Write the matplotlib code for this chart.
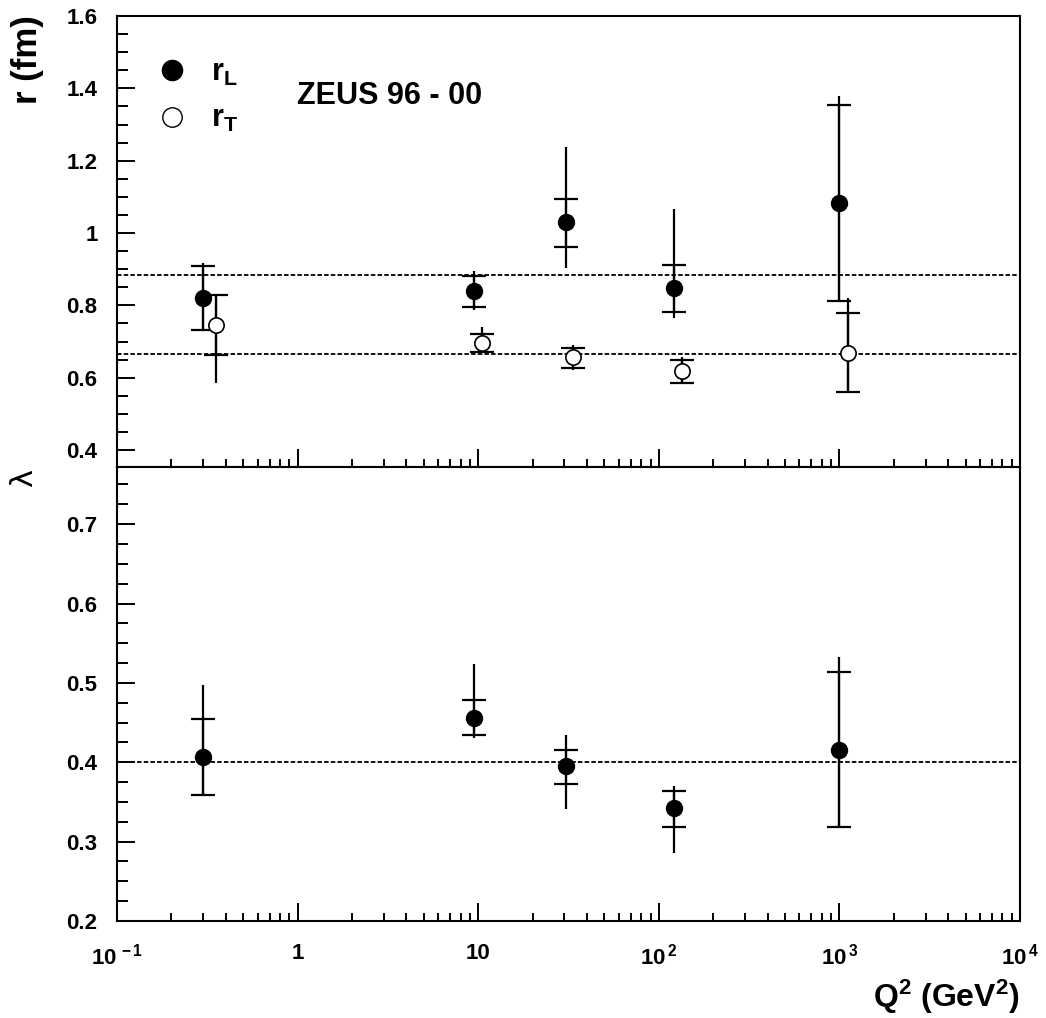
import matplotlib
matplotlib.use("Agg")
import matplotlib.pyplot as plt
from matplotlib.lines import Line2D
from matplotlib.ticker import FixedLocator, MultipleLocator, LogLocator, NullFormatter

plt.rcParams['font.family'] = ['Liberation Sans', 'DejaVu Sans']
plt.rcParams['font.weight'] = 'bold'
plt.rcParams['mathtext.fontset'] = 'custom'
plt.rcParams['mathtext.rm'] = 'Liberation Sans:bold'
plt.rcParams['mathtext.bf'] = 'Liberation Sans:bold'
plt.rcParams['mathtext.it'] = 'Liberation Sans:bold'
plt.rcParams['mathtext.default'] = 'regular'

# ---- data ----
# r_L (filled) and lambda share these Q2 values
q2_L = [0.30, 9.5, 30.5, 121, 1000]
rL = [0.821, 0.840, 1.030, 0.849, 1.082]
rL_stat_up = [0.088, 0.042, 0.063, 0.062, 0.271]
rL_stat_dn = [0.089, 0.044, 0.068, 0.067, 0.270]
rL_tot_up = [0.096, 0.056, 0.209, 0.216, 0.297]
rL_tot_dn = [0.089, 0.053, 0.128, 0.085, 0.270]

# r_T (open), slightly shifted in Q2
q2_T = [0.352, 10.5, 33.4, 134, 1122]
rT = [0.746, 0.697, 0.656, 0.618, 0.667]
rT_stat_up = [0.083, 0.024, 0.027, 0.031, 0.113]
rT_stat_dn = [0.083, 0.025, 0.028, 0.032, 0.107]
rT_tot_up = [0.083, 0.043, 0.034, 0.038, 0.154]
rT_tot_dn = [0.161, 0.025, 0.035, 0.032, 0.107]

# lambda
lam = [0.407, 0.456, 0.395, 0.342, 0.416]
lam_stat_up = [0.048, 0.022, 0.021, 0.022, 0.098]
lam_stat_dn = [0.048, 0.022, 0.022, 0.024, 0.098]
lam_tot_up = [0.090, 0.068, 0.039, 0.028, 0.116]
lam_tot_dn = [0.048, 0.025, 0.054, 0.056, 0.098]

# horizontal reference lines
r_lines = [0.883, 0.665]
lam_lines = [0.40]

x_ticks = [0.1, 1, 10, 100, 1000, 10000]
x_labels = ['$10^{\\,-1}$', '1', '10', '$10^{\\,2}$', '$10^{\\,3}$', '$10^{\\,4}$']

W, H = 1046, 1018
fig = plt.figure(figsize=(W / 100, H / 100), dpi=100)
left, right = 117, 1020
ax1 = fig.add_axes([left / W, (H - 467) / H, (right - left) / W, 451 / H])
ax2 = fig.add_axes([left / W, (H - 921) / H, (right - left) / W, 454 / H])


def draw_points(ax, x, y, s_up, s_dn, t_up, t_dn, filled, ms):
    # total error: plain line, stat error: with cross bars
    ax.errorbar(x, y, yerr=[t_dn, t_up], fmt='none', ecolor='black',
                elinewidth=1.6, capsize=0, zorder=2)
    ax.errorbar(x, y, yerr=[s_dn, s_up], fmt='none', ecolor='black',
                elinewidth=1.6, capsize=8.5, capthick=1.6, zorder=2)
    if filled:
        ax.plot(x, y, 'o', color='black', ms=ms, zorder=3)
    else:
        ax.plot(x, y, 'o', mfc='white', mec='black', mew=1.2, ms=ms, zorder=3)


for ax in (ax1, ax2):
    ax.set_xscale('log')
    ax.set_xlim(0.1, 1e4)
    ax.xaxis.set_major_locator(FixedLocator(x_ticks))
    ax.xaxis.set_minor_locator(LogLocator(base=10, subs=range(2, 10), numticks=20))
    ax.xaxis.set_minor_formatter(NullFormatter())
    ax.tick_params(which='both', direction='in', top=False, right=False,
                   width=1.4, labelsize=16)
    ax.tick_params(axis='y', pad=14)
    ax.tick_params(axis='x', pad=16)
    ax.tick_params(axis='x', which='major', length=13)
    ax.tick_params(axis='x', which='minor', length=6)
    ax.tick_params(axis='y', which='major', length=13)
    ax.tick_params(axis='y', which='minor', length=8)
    for sp in ax.spines.values():
        sp.set_linewidth(1.5)

# top panel: radii
for v in r_lines:
    ax1.axhline(v, color='black', lw=1.3, ls=(0, (2.5, 1.2)), zorder=1)
draw_points(ax1, q2_L, rL, rL_stat_up, rL_stat_dn, rL_tot_up, rL_tot_dn, True, 11.5)
draw_points(ax1, q2_T, rT, rT_stat_up, rT_stat_dn, rT_tot_up, rT_tot_dn, False, 11)
ax1.set_ylim(0.353, 1.6)
ax1.yaxis.set_major_locator(FixedLocator([0.4, 0.6, 0.8, 1.0, 1.2, 1.4, 1.6]))
ax1.yaxis.set_minor_locator(MultipleLocator(0.05))
ax1.set_yticklabels(['0.4', '0.6', '0.8', '1', '1.2', '1.4', '1.6'])
ax1.set_xticklabels([])

handles = [Line2D([], [], ls='none', marker='o', color='black', ms=14.5),
           Line2D([], [], ls='none', marker='o', mfc='white', mec='black', mew=1.0, ms=14)]
ax1.legend(handles, ['r$_L$', 'r$_T$'], loc='upper left', bbox_to_anchor=(0.0436, 0.908),
           frameon=False, fontsize=22, borderpad=0, borderaxespad=0,
           handlelength=1.0, handletextpad=0.8, labelspacing=0.55)
ax1.text(0.199, 0.823, 'ZEUS 96 - 00', transform=ax1.transAxes, fontsize=22,
         ha='left', va='center')

# bottom panel: lambda
for v in lam_lines:
    ax2.axhline(v, color='black', lw=1.3, ls=(0, (2.5, 1.2)), zorder=1)
draw_points(ax2, q2_L, lam, lam_stat_up, lam_stat_dn, lam_tot_up, lam_tot_dn, True, 11.5)
ax2.set_ylim(0.2, 0.772)
ax2.yaxis.set_major_locator(FixedLocator([0.2, 0.3, 0.4, 0.5, 0.6, 0.7]))
ax2.yaxis.set_minor_locator(MultipleLocator(0.025))
ax2.set_yticklabels(['0.2', '0.3', '0.4', '0.5', '0.6', '0.7'])
ax2.set_xticklabels(x_labels)

# axis titles
fig.text(28 / W, 1 - 60 / H, 'r (fm)', rotation=90, ha='center', va='center', fontsize=25)
fig.text(24 / W, 1 - 478 / H, 'λ', rotation=90, ha='center', va='center',
         fontsize=22, fontweight='normal', family='DejaVu Sans')
fig.text(right / W, 1 - 997 / H, 'Q$^2$ (GeV$^2$)', ha='right', va='center', fontsize=23)
# title sits almost entirely above the figure edge, as in the original
fig.text(565 / W, 1 - 0.5 / H, 'ZEUS', ha='center', va='baseline', fontsize=27, color='#333333')

fig.savefig('out.png', dpi=100)
